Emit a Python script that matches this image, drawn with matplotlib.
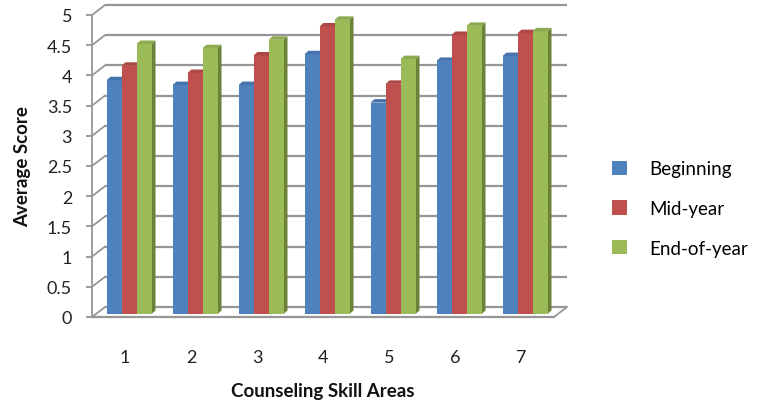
import numpy as np
import matplotlib
matplotlib.use("Agg")
import matplotlib.pyplot as plt
from matplotlib.patches import Polygon, Patch

# Data
areas = ["1", "2", "3", "4", "5", "6", "7"]
series_names = ["Beginning", "Mid-year", "End-of-year"]
beginning = [3.87, 3.79, 3.79, 4.30, 3.50, 4.19, 4.27]
mid_year = [4.11, 3.99, 4.28, 4.76, 3.81, 4.62, 4.65]
end_of_year = [4.47, 4.40, 4.54, 4.87, 4.22, 4.77, 4.68]
y_ticks = [0, 0.5, 1, 1.5, 2, 2.5, 3, 3.5, 4, 4.5, 5]

front_colors = ["#4F81BD", "#C0504D", "#9BBB59"]
top_colors = ["#4573AB", "#AD4845", "#8CAA4F"]
side_colors = ["#37598A", "#8B3A38", "#6B8238"]
grid_color = "#969696"

plt.rcParams["font.family"] = ["Lato", "DejaVu Sans"]

W, H = 758, 406
fig = plt.figure(figsize=(W / 100, H / 100), dpi=100)
fig.patch.set_facecolor("white")

# Plot area in pixels (front plane): x 92..554, y 16..318 (from top)
left_px, right_px, top_px, bot_px = 92, 554, 16, 318
ax = fig.add_axes([left_px / W, (H - bot_px) / H,
                   (right_px - left_px) / W, (bot_px - top_px) / H])
ax.set_xlim(0.5, 7.5)
ax.set_ylim(0, 5)
ax.set_facecolor("none")

ux = (right_px - left_px) / 7.0      # pixels per category
uy = (bot_px - top_px) / 5.0         # pixels per unit value

# depth offsets in data units
back_dx, back_dy = 13 / ux, 10 / uy  # back wall relative to front plane
bar_dx, bar_dy = 4 / ux, 3 / uy      # bar front faces relative to front plane
cap_dx, cap_dy = 4 / ux, 3.5 / uy    # bar thickness (top / side faces)

n = len(areas)
x = np.arange(1, n + 1)

# back wall gridlines, left wall diagonals
for v in y_ticks:
    ax.plot([0.5 + back_dx, 7.5 + back_dx], [v + back_dy, v + back_dy],
            color=grid_color, lw=1.6, clip_on=False, zorder=1,
            solid_capstyle="butt")
    ax.plot([0.5, 0.5 + back_dx], [v, v + back_dy],
            color=grid_color, lw=1.3, clip_on=False, zorder=1)
# floor right edge
ax.plot([7.5, 7.5 + back_dx], [0, back_dy], color=grid_color, lw=1.3,
        clip_on=False, zorder=1)

# bars
bar_w = 15 / ux
values = [beginning, mid_year, end_of_year]
for i in range(n):
    for s in range(3):
        v = values[s][i]
        xl = x[i] + bar_dx + (s - 1.5) * bar_w
        xr = xl + bar_w
        yb = bar_dy
        yt = bar_dy + v
        ax.bar(xl, v, width=bar_w, bottom=yb, align="edge",
               color=front_colors[s], linewidth=0, zorder=3 + s * 0.1 + i,
               clip_on=False)
        side = Polygon([(xr, yb), (xr + cap_dx, yb + cap_dy),
                        (xr + cap_dx, yt + cap_dy), (xr, yt)],
                       closed=True, facecolor=side_colors[s], lw=0,
                       zorder=3 + s * 0.1 + i - 0.01, clip_on=False)
        top = Polygon([(xl, yt), (xr, yt), (xr + cap_dx, yt + cap_dy),
                       (xl + cap_dx, yt + cap_dy)],
                      closed=True, facecolor=top_colors[s], lw=0,
                      zorder=3 + s * 0.1 + i, clip_on=False)
        ax.add_patch(side)
        ax.add_patch(top)

# axes styling
for sp in ["top", "right"]:
    ax.spines[sp].set_visible(False)
ax.spines["left"].set_color(grid_color)
ax.spines["left"].set_linewidth(1.3)
ax.spines["bottom"].set_color(grid_color)
ax.spines["bottom"].set_linewidth(1.6)
ax.spines["left"].set_zorder(2)
ax.spines["bottom"].set_zorder(2)

ax.set_yticks(y_ticks)
ax.set_yticklabels(["0", "0.5", "1", "1.5", "2", "2.5", "3", "3.5", "4",
                    "4.5", "5"])
ax.set_xticks(x)
ax.set_xticklabels(areas)
ax.tick_params(axis="y", length=6 * 0.72, width=1.3, color=grid_color,
               pad=10, labelsize=13, labelcolor="#222222")
ax.tick_params(axis="x", length=0, pad=23, labelsize=13,
               labelcolor="#222222")

ax.set_ylabel("Average Score", fontsize=13.5, fontweight="bold",
              color="#111111", labelpad=11)
ax.set_xlabel("Counseling Skill Areas", fontsize=13.5, fontweight="bold",
              color="#111111", labelpad=12)

handles = [Patch(facecolor=c, edgecolor="none") for c in front_colors]
fig.legend(handles, series_names, loc="upper left",
           bbox_to_anchor=(604 / W, 1 - 154 / H), frameon=False,
           fontsize=13.5, handlelength=0.8, handleheight=0.8,
           handletextpad=1.2, labelspacing=1.2, borderaxespad=0)

fig.savefig("out.png", dpi=100, facecolor="white")
